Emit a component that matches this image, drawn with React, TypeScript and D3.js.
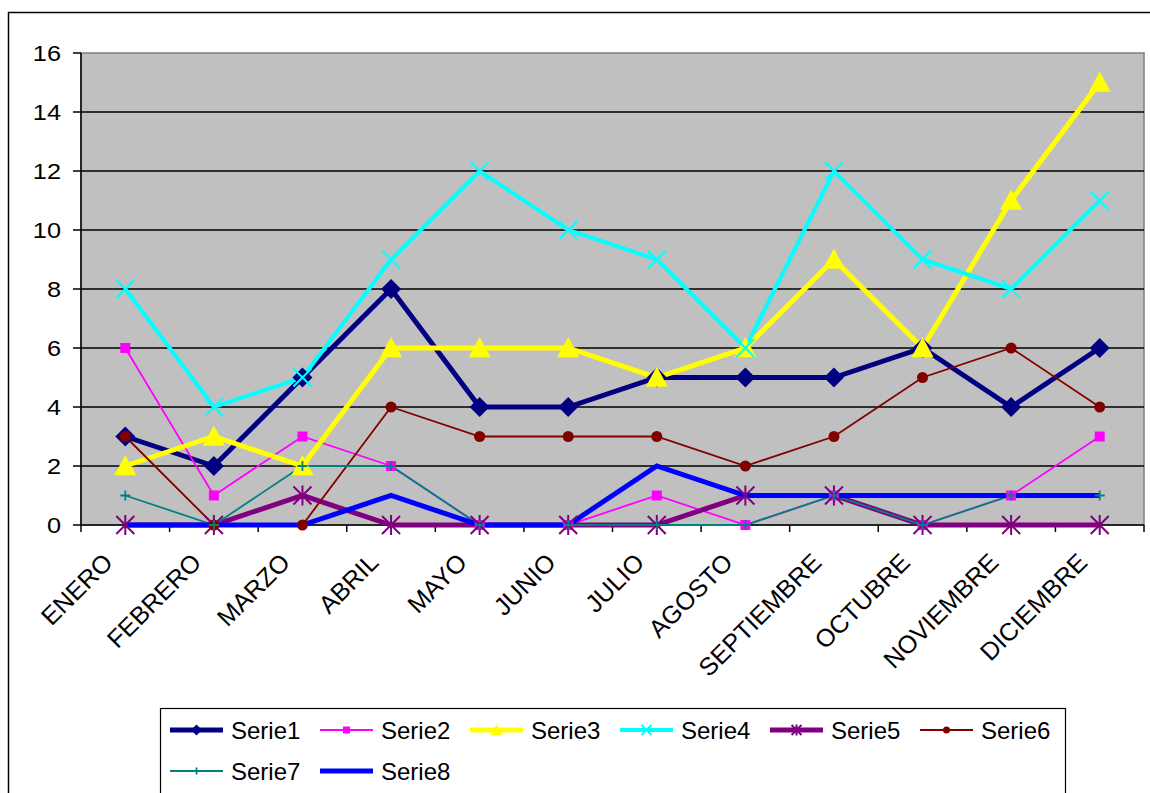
import React from "react";
import * as d3 from "d3";

const categories = ["ENERO", "FEBRERO", "MARZO", "ABRIL", "MAYO", "JUNIO", "JULIO", "AGOSTO", "SEPTIEMBRE", "OCTUBRE", "NOVIEMBRE", "DICIEMBRE"];
const serie1 = [3, 2, 5, 8, 4, 4, 5, 5, 5, 6, 4, 6];
const serie2 = [6, 1, 3, 2, 0, 0, 1, 0, 1, 0, 1, 3];
const serie3 = [2, 3, 2, 6, 6, 6, 5, 6, 9, 6, 11, 15];
const serie4 = [8, 4, 5, 9, 12, 10, 9, 6, 12, 9, 8, 11];
const serie5 = [0, 0, 1, 0, 0, 0, 0, 1, 1, 0, 0, 0];
const serie6 = [3, 0, 0, 4, 3, 3, 3, 2, 3, 5, 6, 4];
const serie7 = [1, 0, 2, 2, 0, 0, 0, 0, 1, 0, 1, 1];
const serie8 = [0, 0, 0, 1, 0, 0, 2, 1, 1, 1, 1, 1];
const seriesNames = ["Serie1", "Serie2", "Serie3", "Serie4", "Serie5", "Serie6", "Serie7", "Serie8"];
const yTicks = [0, 2, 4, 6, 8, 10, 12, 14, 16];

type Marker = "diamond" | "square" | "triangle" | "x" | "star" | "circle" | "plus" | "none";
const styles: { color: string; width: number; marker: Marker; size: number }[] = [
  { color: "#000080", width: 5, marker: "diamond", size: 10 },
  { color: "#FF00FF", width: 1.8, marker: "square", size: 5 },
  { color: "#FFFF00", width: 5, marker: "triangle", size: 11 },
  { color: "#00FFFF", width: 4, marker: "x", size: 9 },
  { color: "#800080", width: 5, marker: "star", size: 9 },
  { color: "#800000", width: 1.8, marker: "circle", size: 5.5 },
  { color: "#008080", width: 1.8, marker: "plus", size: 5 },
  { color: "#0000FF", width: 5, marker: "none", size: 0 },
];
const seriesData = [serie1, serie2, serie3, serie4, serie5, serie6, serie7, serie8];

const W = 1150, H = 793;
const plotL = 81, plotR = 1144, plotT = 53, plotB = 525;
const FONT = "'Liberation Sans', Arial, sans-serif";

function markerEl(m: Marker, s: number, color: string, cx: number, cy: number, key: string) {
  switch (m) {
    case "diamond":
      return <path key={key} d={`M${cx},${cy - s}L${cx + s},${cy}L${cx},${cy + s}L${cx - s},${cy}Z`} fill={color} />;
    case "square":
      return <rect key={key} x={cx - s} y={cy - s} width={2 * s} height={2 * s} fill={color} />;
    case "triangle":
      return <path key={key} d={`M${cx},${cy - s}L${cx + s},${cy + s * 0.85}L${cx - s},${cy + s * 0.85}Z`} fill={color} />;
    case "x":
      return <path key={key} d={`M${cx - s},${cy - s}L${cx + s},${cy + s}M${cx - s},${cy + s}L${cx + s},${cy - s}`} stroke={color} strokeWidth={2} />;
    case "star":
      return <path key={key} d={`M${cx - s},${cy - s}L${cx + s},${cy + s}M${cx - s},${cy + s}L${cx + s},${cy - s}M${cx},${cy - s * 1.1}L${cx},${cy + s * 1.1}`} stroke={color} strokeWidth={2} />;
    case "circle":
      return <circle key={key} cx={cx} cy={cy} r={s} fill={color} />;
    case "plus":
      return <path key={key} d={`M${cx - s},${cy}L${cx + s},${cy}M${cx},${cy - s}L${cx},${cy + s}`} stroke={color} strokeWidth={1.8} />;
    default:
      return null;
  }
}

export default function App() {
  const x = d3.scaleBand<string>().domain(categories).range([plotL, plotR]).padding(0);
  const y = d3.scaleLinear().domain([0, 16]).range([plotB, plotT]);
  const bw = x.bandwidth();
  const cx = (c: string) => (x(c) as number) + bw / 2;
  const line = d3
    .line<number>()
    .x((_, i) => cx(categories[i]))
    .y((v) => y(v));

  const boundaries = d3.range(categories.length + 1).map((i) => plotL + i * bw);

  const legendL = 160, legendT = 708;
  const legendRows = [730, 771];

  return (
    <svg width={W} height={H} style={{ position: "absolute", left: 0, top: 0 }} fontFamily={FONT}>
      <rect x={0} y={0} width={W} height={H} fill="#fff" />
      <rect x={8.5} y={12.5} width={W} height={H} fill="#fff" stroke="#000" strokeWidth={1.5} />
      <rect x={plotL} y={plotT} width={plotR - plotL} height={plotB - plotT} fill="#C0C0C0" stroke="#808080" strokeWidth={1.5} />
      {yTicks.filter((t) => t > 0 && t < 16).map((t) => (
        <line key={"g" + t} x1={plotL} x2={plotR} y1={y(t)} y2={y(t)} stroke="#000" strokeWidth={1.5} />
      ))}
      {/* axes */}
      <line x1={plotL} x2={plotL} y1={plotT} y2={plotB} stroke="#000" strokeWidth={1.5} />
      <line x1={plotL} x2={plotR} y1={plotB} y2={plotB} stroke="#000" strokeWidth={1.5} />
      {yTicks.map((t) => (
        <g key={"yt" + t}>
          <line x1={plotL - 8} x2={plotL} y1={y(t)} y2={y(t)} stroke="#000" strokeWidth={1.5} />
          <text transform={`translate(61,${y(t)}) scale(1.15,1)`} dy="0.36em" textAnchor="end" fontSize={22} fill="#000">
            {t}
          </text>
        </g>
      ))}
      {boundaries.map((b, i) => (
        <line key={"xt" + i} x1={b} x2={b} y1={plotB} y2={plotB + 7} stroke="#000" strokeWidth={1.5} />
      ))}
      {categories.map((c) => (
        <text key={"xl" + c} transform={`translate(${cx(c) - 11},${564}) rotate(-45)`} textAnchor="end" fontSize={25} fill="#000">
          {c}
        </text>
      ))}
      {/* lines */}
      {seriesData.map((d, i) => (
        <path key={"l" + i} d={line(d) || ""} fill="none" stroke={styles[i].color} strokeWidth={styles[i].width} strokeLinejoin="miter" />
      ))}
      {/* markers */}
      {seriesData.map((d, i) =>
        d.map((v, j) => markerEl(styles[i].marker, styles[i].size, styles[i].color, cx(categories[j]), y(v), `m${i}-${j}`))
      )}
      {/* legend */}
      <rect x={legendL + 0.5} y={legendT + 0.5} width={905} height={H} fill="#fff" stroke="#000" strokeWidth={1.2} />
      {seriesNames.map((n, i) => {
        const row = i < 6 ? 0 : 1;
        const col = i < 6 ? i : i - 6;
        const lx = 170 + col * 150;
        const ly = legendRows[row];
        const st = styles[i];
        return (
          <g key={"lg" + n}>
            <line x1={lx} x2={lx + 53} y1={ly} y2={ly} stroke={st.color} strokeWidth={st.width} />
            {markerEl(st.marker, Math.max(3.5, st.size * 0.55), st.color, lx + 26.5, ly, "lm" + i)}
            <text x={lx + 61} y={ly} dy="0.36em" fontSize={24} fill="#000">
              {n}
            </text>
          </g>
        );
      })}
    </svg>
  );
}
